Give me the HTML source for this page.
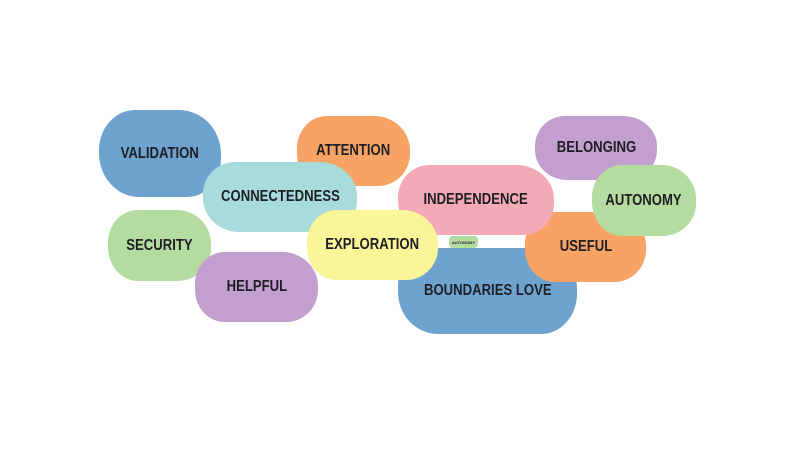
<!DOCTYPE html>
<html><head><style>
body{margin:0;width:800px;height:450px;background:#fff;position:relative;overflow:hidden;font-family:"Liberation Sans",sans-serif;}
.b{position:absolute;display:flex;align-items:center;justify-content:center;font-weight:bold;font-size:16px;color:#1e1e24;}
.b span{display:inline-block;transform:scaleX(0.82);white-space:nowrap;}
</style></head><body>
<div class="b" style="left:99px;top:110px;width:122px;height:87px;background:#6fa3cf;border-radius:36px 42px 34px 40px/40px 44px 38px 44px"><span>VALIDATION</span></div>
<div class="b" style="left:297px;top:116px;width:113px;height:70px;background:#f7a365;border-radius:30px 36px 32px 30px/32px 34px 32px 32px"><span>ATTENTION</span></div>
<div class="b" style="left:203px;top:162px;width:154px;height:70px;background:#a8dcdc;border-radius:32px 38px 30px 36px/32px 34px 32px 34px"><span>CONNECTEDNESS</span></div>
<div class="b" style="left:108px;top:210px;width:103px;height:71px;background:#b5dca0;border-radius:30px 34px 34px 30px/32px 34px 32px 34px"><span>SECURITY</span></div>
<div class="b" style="left:195px;top:252px;width:123px;height:70px;background:#c39fcf;border-radius:30px 36px 32px 30px/32px 34px 32px 32px"><span>HELPFUL</span></div>
<div class="b" style="left:535px;top:116px;width:122px;height:64px;background:#c39fcf;border-radius:30px 34px 30px 32px/30px 30px 30px 30px"><span>BELONGING</span></div>
<div class="b" style="left:398px;top:248px;width:179px;height:86px;background:#6fa3cf;border-radius:36px 42px 36px 40px/38px 40px 40px 42px"><span>BOUNDARIES LOVE</span></div>
<div class="b" style="left:525px;top:212px;width:121px;height:70px;background:#f7a365;border-radius:30px 36px 32px 30px/32px 34px 32px 32px"><span>USEFUL</span></div>
<div class="b" style="left:398px;top:165px;width:156px;height:70px;background:#f4aab6;border-radius:32px 38px 30px 36px/32px 34px 32px 34px"><span>INDEPENDENCE</span></div>
<div class="b" style="left:307px;top:210px;width:131px;height:70px;background:#fbf59a;border-radius:30px 36px 32px 30px/32px 34px 32px 32px"><span>EXPLORATION</span></div>
<div class="b" style="left:592px;top:165px;width:104px;height:71px;background:#b5dca0;border-radius:30px 34px 34px 30px/32px 34px 32px 34px"><span>AUTONOMY</span></div>
<div class="b" style="left:449px;top:236px;width:29px;height:12px;background:#b5dca0;border-radius:4px;font-size:4px">AUTONOMY</div>
</body></html>
